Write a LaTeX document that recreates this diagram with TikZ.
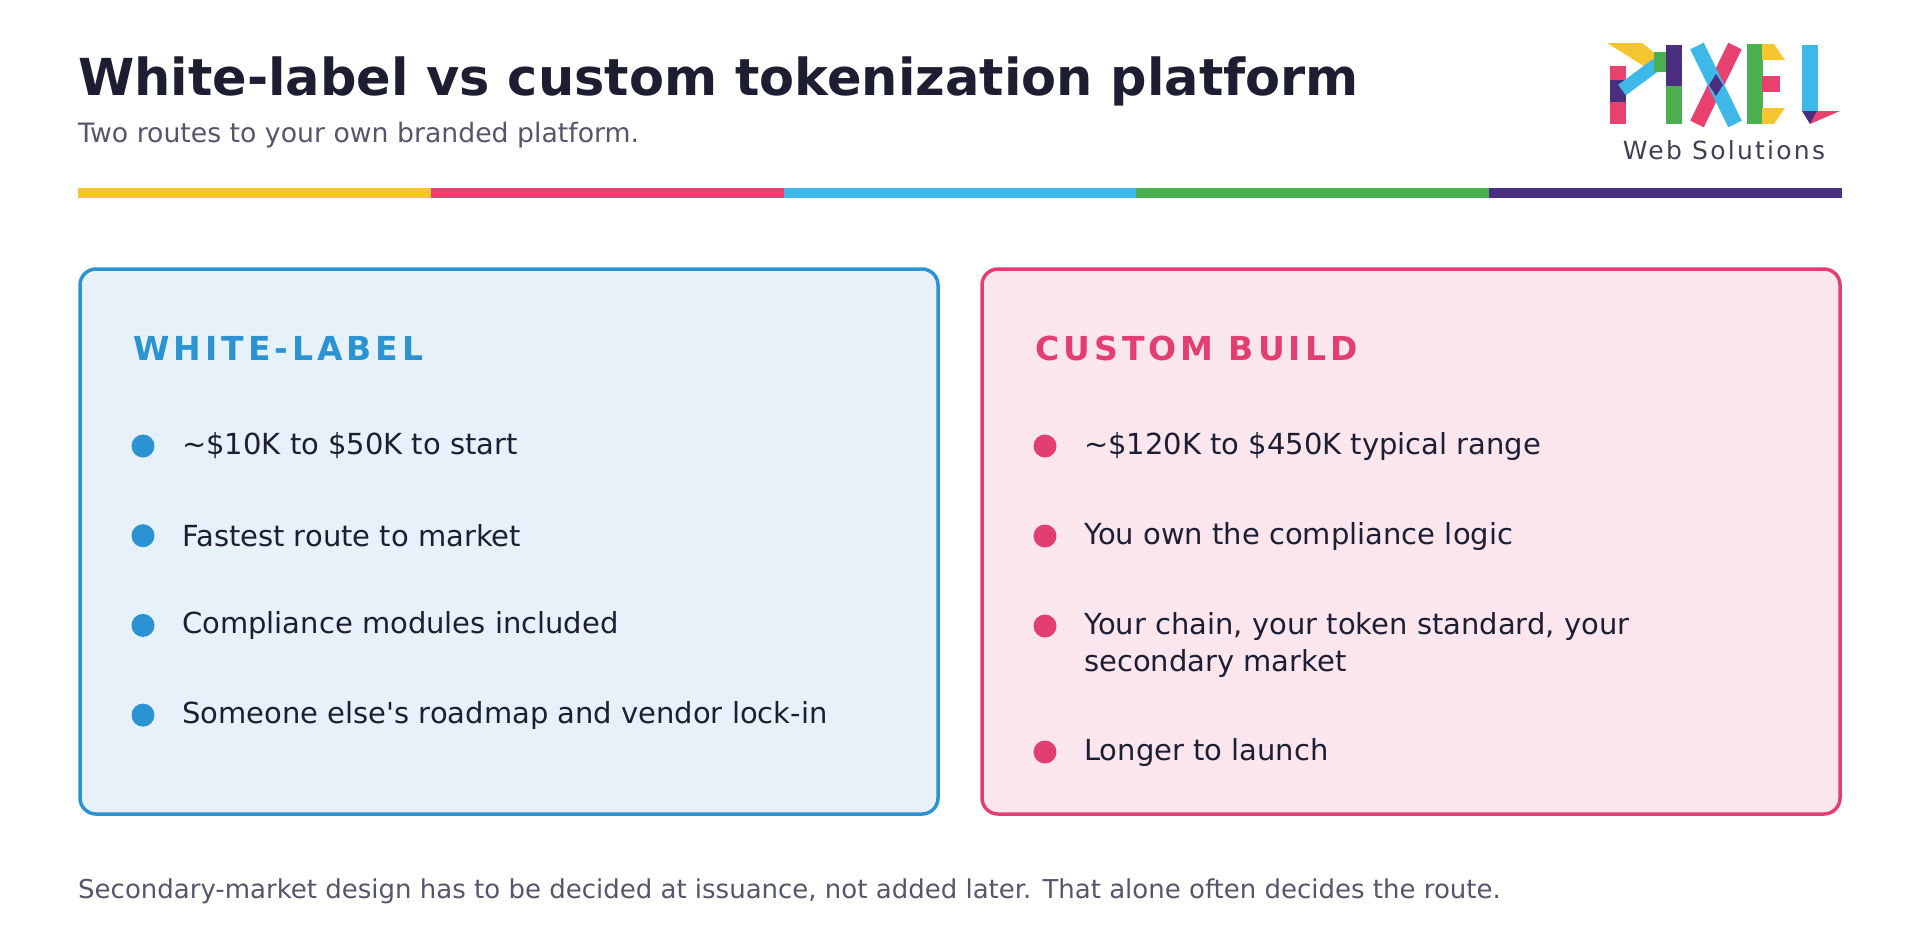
\documentclass[tikz,border=0pt]{standalone}
\usepackage{fontspec}
\setmainfont[Ligatures=NoCommon]{DejaVu Sans}
\newfontfamily\headfont[LetterSpace=12]{DejaVu Sans Bold}
\definecolor{ink}{HTML}{1E1E33}
\definecolor{sub}{HTML}{55566A}
\definecolor{cy}{HTML}{F5C630}
\definecolor{cp}{HTML}{E8416F}
\definecolor{cb}{HTML}{3DB8E8}
\definecolor{cg}{HTML}{4CAF50}
\definecolor{cv}{HTML}{4A2F80}
\definecolor{lb}{HTML}{2B93D1}
\definecolor{lbf}{HTML}{E6F1FA}
\definecolor{rb}{HTML}{E23E72}
\definecolor{rbf}{HTML}{FCE6EE}
\begin{document}
\begin{tikzpicture}[x=1pt,y=-1pt,
 item/.style={anchor=west,inner sep=0,font=\fontsize{29}{37}\selectfont,text=ink,align=left},
 head/.style={anchor=west,font=\fontsize{33}{40}\headfont},
 box/.style={rounded corners=16pt,line width=3.5pt},
 lg/.style={line width=16pt}]
\useasboundingbox (0,0) rectangle (1920,946);
\fill[white] (0,0) rectangle (1920,946);
\node[anchor=base west,inner sep=0,font=\fontsize{51}{60}\selectfont\bfseries,text=ink] (title) at (78,95) {White-label vs custom tokenization platform};
\node[anchor=west,inner sep=0,font=\fontsize{26.7}{30}\selectfont,text=sub] (subt) at (78,135) {Two routes to your own branded platform.};
\foreach \c [count=\i from 0] in {cy,cp,cb,cg,cv}
  \fill[\c] (78+352.8*\i,188) rectangle (78+352.8*\i+352.8,198);
% logo
\begin{scope}
\draw[lg,cp] (1618,66) -- (1618,124);
\draw[lg,cv] (1618,80) -- (1618,102);
\fill[cy] (1607,43) -- (1642,43) -- (1664,60) -- (1650,70) -- cycle;
\draw[line width=13pt,cb] (1660,62) -- (1622,90);
\draw[line width=13pt,cg] (1660,52) -- (1660,72);
\draw[lg,cv] (1674,45) -- (1674,86);
\draw[lg,cg] (1674,86) -- (1674,124);
\draw[line width=15pt,cp] (1697,124) -- (1735,46);
\draw[line width=15pt,cb] (1697,46) -- (1735,124);
\fill[cv] (1716,74) -- (1723,85) -- (1716,96) -- (1709,85) -- cycle;
\draw[lg,cg] (1755,44) -- (1755,124);
\fill[cy] (1762,44) -- (1774,44) -- (1785,60) -- (1762,60) -- cycle;
\fill[cp] (1762,76) rectangle (1780,92);
\fill[cy] (1762,108) -- (1785,108) -- (1774,124) -- (1762,124) -- cycle;
\draw[lg,cb] (1810,45) -- (1810,111);
\fill[cv] (1802,111) -- (1827,111) -- (1810,124) -- cycle;
\fill[cp] (1817,111) -- (1840,111) -- (1810,124) -- cycle;
\node[inner sep=0,font=\fontsize{25}{28}\selectfont\addfontfeature{LetterSpace=9},text=ink!85] (logo) at (1724,150) {Web Solutions};
\end{scope}
% boxes
\draw[box,draw=lb,fill=lbf] (80,269) rectangle (938,814);
\draw[box,draw=rb,fill=rbf] (982,269) rectangle (1840,814);
\node[head,text=lb] (hl) at (130,348) {WHITE-LABEL};
\node[head,text=rb] (hr) at (1032,348) {CUSTOM BUILD};
\foreach \t [count=\i from 0] in {\textasciitilde\$10K to \$50K to start,Fastest route to market,Compliance modules included,Someone else\textquotesingle s roadmap and vendor lock-in}{
  \fill[lb] (143,446+89.7*\i) circle (11.5);
  \node[item] (l\i) at (182,446+89.7*\i) {\t};
}
\fill[rb] (1045,446) circle (11.5); \node[item] (r0) at (1084,446) {\textasciitilde\$120K to \$450K typical range};
\fill[rb] (1045,536) circle (11.5); \node[item] (r1) at (1084,536) {You own the compliance logic};
\fill[rb] (1045,626) circle (11.5); \node[item,anchor=north west] (r2) at (1084,612) {Your chain, your token standard, your\\secondary market};
\fill[rb] (1045,752) circle (11.5); \node[item] (r3) at (1084,752) {Longer to launch};
\node[anchor=west,inner sep=0,font=\fontsize{26}{30}\selectfont,text=sub] (foot) at (78,891) {Secondary-market design has to be decided at issuance, not added later. That alone often decides the route.};
\end{tikzpicture}
\end{document}
